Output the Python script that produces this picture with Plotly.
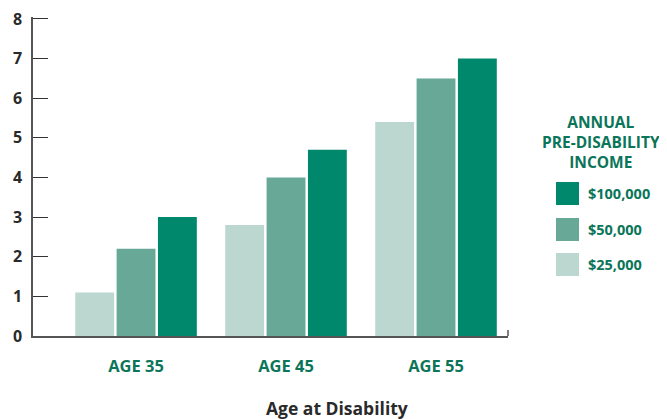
import plotly.graph_objects as go

categories = ["AGE 35", "AGE 45", "AGE 55"]
series_names = ["$25,000", "$50,000", "$100,000"]
values_25k = [1.1, 2.8, 5.4]
values_50k = [2.2, 4.0, 6.5]
values_100k = [3.0, 4.7, 7.0]
colors = ["#bcd7cf", "#67a897", "#00886c"]
y_ticks = [0, 1, 2, 3, 4, 5, 6, 7, 8]
x_title = "Age at Disability"

green_text = "#0b7559"
dark_text = "#2a2a2a"
font_family = "Open Sans"

fig = go.Figure()
x_idx = list(range(len(categories)))
for name, vals, col in zip(series_names, [values_25k, values_50k, values_100k], colors):
    fig.add_trace(go.Bar(x=x_idx, y=vals, name=name, marker=dict(color=col, line=dict(width=0)),
                         showlegend=False))

# page body has an 8px default margin, so the figure is sized/placed to compensate
# plot area in the viewport: x 33..508, y 17..336
fig.update_layout(
    width=659, height=411,
    margin=dict(l=25, r=159, t=9, b=83),
    plot_bgcolor="white", paper_bgcolor="white",
    barmode="group", bargap=0.173, bargroupgap=0.06,
    font=dict(family=font_family),
)
fig.update_xaxes(
    tickmode="array", tickvals=x_idx, ticktext=categories,
    range=[-0.687, 2.48], automargin=False,
    showline=True, linecolor="#555555", linewidth=2,
    ticks="", showgrid=False, zeroline=False,
    tickfont=dict(size=16.5, color=green_text, family=font_family, weight="bold"),
    ticklabelstandoff=14,
)
fig.update_yaxes(
    range=[0, 8.05], tickvals=y_ticks, automargin=False,
    showline=True, linecolor="#555555", linewidth=1.5,
    ticks="inside", ticklen=15, tickcolor="#333333", tickwidth=1.2,
    showgrid=False, zeroline=False, ticklabeloverflow="allow",
    tickfont=dict(size=16, color=dark_text, family=font_family, weight="bold"),
    ticklabelstandoff=6,
)

# right end tick of x axis
fig.add_shape(type="line", xref="paper", yref="y", x0=1, x1=1, y0=0, y1=0.15,
              line=dict(color="#555555", width=1.5))

plot_w = 475
plot_h = 319
def px(vx):
    return (vx - 33) / plot_w
def py(vy):
    return (336 - vy) / plot_h

# x axis title, centred on the whole figure as in the reference
fig.add_annotation(xref="paper", yref="paper", x=px(337), y=py(408),
                   xanchor="center", yanchor="middle", showarrow=False,
                   text="<b>" + x_title + "</b>", font=dict(size=17.5, color=dark_text))

# legend (manual, top-down: $100,000, $50,000, $25,000)
fig.add_annotation(xref="paper", yref="paper", x=px(601), y=py(142),
                   xanchor="center", yanchor="middle",
                   text="<b>ANNUAL<br>PRE-DISABILITY<br>INCOME</b>", showarrow=False,
                   font=dict(size=15.5, color=green_text), align="center")
leg_order = [2, 1, 0]
sw_top = [182, 218, 253]
for i, k in enumerate(leg_order):
    y0 = py(sw_top[i])
    y1 = py(sw_top[i] + 23)
    fig.add_shape(type="rect", xref="paper", yref="paper", x0=px(556), x1=px(579), y0=y0, y1=y1,
                  fillcolor=colors[k], line=dict(width=0))
    fig.add_annotation(xref="paper", yref="paper", x=px(586), y=(y0 + y1) / 2,
                       xanchor="left", yanchor="middle", text="<b>" + series_names[k] + "</b>",
                       showarrow=False, font=dict(size=14.5, color=green_text))

fig.write_html("out.html")
